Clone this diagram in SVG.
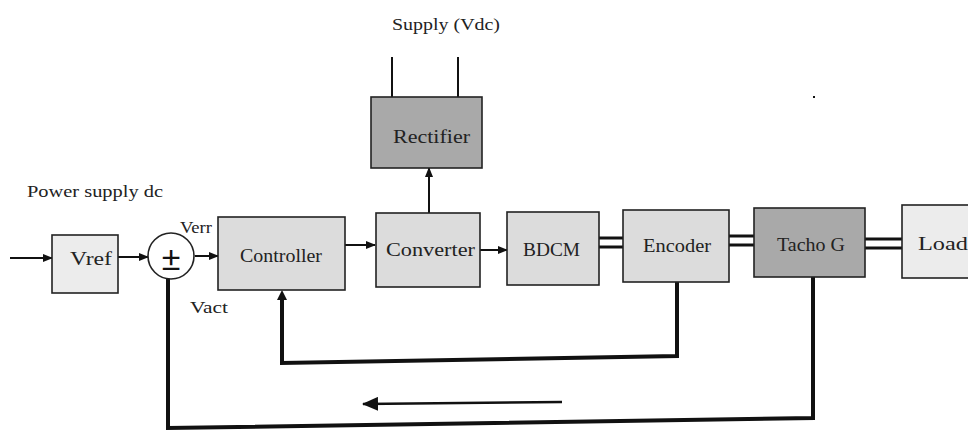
<svg xmlns="http://www.w3.org/2000/svg" width="968" height="431" viewBox="0 0 968 431">
<style>
.box{stroke:#222;stroke-width:1.6}
.light{fill:#dcdcdc}
.pale{fill:#ececec}
.dark{fill:#a9a9a9}
.lbl{font-family:"Liberation Serif",serif;font-size:18px;fill:#222}
.sm{font-family:"Liberation Serif",serif;font-size:16px;fill:#222}
.ln{stroke:#111;stroke-width:2;fill:none}
.fb{stroke:#111;stroke-width:4;fill:none;stroke-linejoin:miter}
.shaft{stroke:#111;stroke-width:3}
</style>
<defs>
<marker id="ah" markerWidth="10" markerHeight="8" refX="9" refY="4" orient="auto" markerUnits="userSpaceOnUse">
<path d="M0,0 L10,4 L0,8 Z" fill="#111"/>
</marker>
<marker id="ahb" markerWidth="16" markerHeight="14" refX="15" refY="7" orient="auto" markerUnits="userSpaceOnUse">
<path d="M0,0 L16,7 L0,14 Z" fill="#111"/>
</marker>
</defs>
<rect width="968" height="431" fill="#fff"/>
<text class="sm" x="27" y="197" textLength="136" lengthAdjust="spacingAndGlyphs">Power supply dc</text>
<text class="sm" x="392" y="30" textLength="108" lengthAdjust="spacingAndGlyphs">Supply (Vdc)</text>
<text class="sm" x="180" y="233" textLength="32" lengthAdjust="spacingAndGlyphs">Verr</text>
<text class="sm" x="190" y="313" textLength="38" lengthAdjust="spacingAndGlyphs">Vact</text>
<g id="connectors">
<line class="ln" x1="10" y1="258" x2="52" y2="258" marker-end="url(#ah)"/>
<line class="ln" x1="118" y1="257" x2="148" y2="257" marker-end="url(#ah)"/>
<line class="ln" x1="195" y1="256" x2="218" y2="256" marker-end="url(#ah)"/>
<line class="ln" x1="345" y1="245" x2="375" y2="245" marker-end="url(#ah)"/>
<line class="ln" x1="480" y1="250" x2="507" y2="250" marker-end="url(#ah)"/>
<line class="ln" x1="429" y1="213" x2="429" y2="168" marker-end="url(#ah)"/>
<line class="ln" x1="392" y1="57" x2="392" y2="97"/>
<line class="ln" x1="458" y1="57" x2="458" y2="97"/>
<line class="shaft" x1="599" y1="238" x2="623" y2="238"/>
<line class="shaft" x1="599" y1="247" x2="623" y2="247"/>
<line class="shaft" x1="729" y1="236" x2="754" y2="236"/>
<line class="shaft" x1="729" y1="245" x2="754" y2="245"/>
<line class="shaft" x1="865" y1="239" x2="902" y2="239"/>
<line class="shaft" x1="865" y1="248" x2="902" y2="248"/>
<polyline class="fb" points="677,282 677,356 282,363 282,298"/>
<path d="M277,300 L282,290 L287,300 Z" fill="#111"/>
<polyline class="fb" points="813,277 813,418 168,428 168,279"/>
<line x1="562" y1="402" x2="363" y2="404" stroke="#111" stroke-width="2.5" marker-end="url(#ahb)"/>
</g>
<g id="vref"><rect class="box pale" x="52" y="235" width="66" height="58"/><text class="lbl" x="70" y="265" textLength="42" lengthAdjust="spacingAndGlyphs">Vref</text></g>
<g id="sum"><circle cx="171" cy="256" r="23" fill="#fff" stroke="#222" stroke-width="1.6"/><text x="171" y="270" text-anchor="middle" font-family="Liberation Sans,sans-serif" font-size="34" fill="#111">±</text></g>
<g id="controller"><rect class="box light" x="218" y="217" width="127" height="73"/><text class="lbl" x="240" y="262" textLength="82" lengthAdjust="spacingAndGlyphs">Controller</text></g>
<g id="converter"><rect class="box light" x="376" y="213" width="104" height="74"/><text class="lbl" x="386" y="256" textLength="89" lengthAdjust="spacingAndGlyphs">Converter</text></g>
<g id="rectifier"><rect class="box dark" x="371" y="97" width="111" height="71"/><text class="lbl" x="393" y="143" textLength="77" lengthAdjust="spacingAndGlyphs">Rectifier</text></g>
<g id="bdcm"><rect class="box light" x="507" y="212" width="92" height="73"/><text class="lbl" x="523" y="256" textLength="57" lengthAdjust="spacingAndGlyphs">BDCM</text></g>
<g id="encoder"><rect class="box light" x="623" y="210" width="106" height="72"/><text class="lbl" x="643" y="252" textLength="68" lengthAdjust="spacingAndGlyphs">Encoder</text></g>
<g id="tacho"><rect class="box dark" x="754" y="208" width="111" height="69"/><text class="lbl" x="777" y="251" textLength="68" lengthAdjust="spacingAndGlyphs">Tacho G</text></g>
<g id="load"><rect class="box pale" x="902" y="205" width="70" height="73"/><text class="lbl" x="918" y="250" textLength="50" lengthAdjust="spacingAndGlyphs">Load</text></g>
<rect x="813" y="96" width="2" height="2" fill="#111"/>
</svg>
